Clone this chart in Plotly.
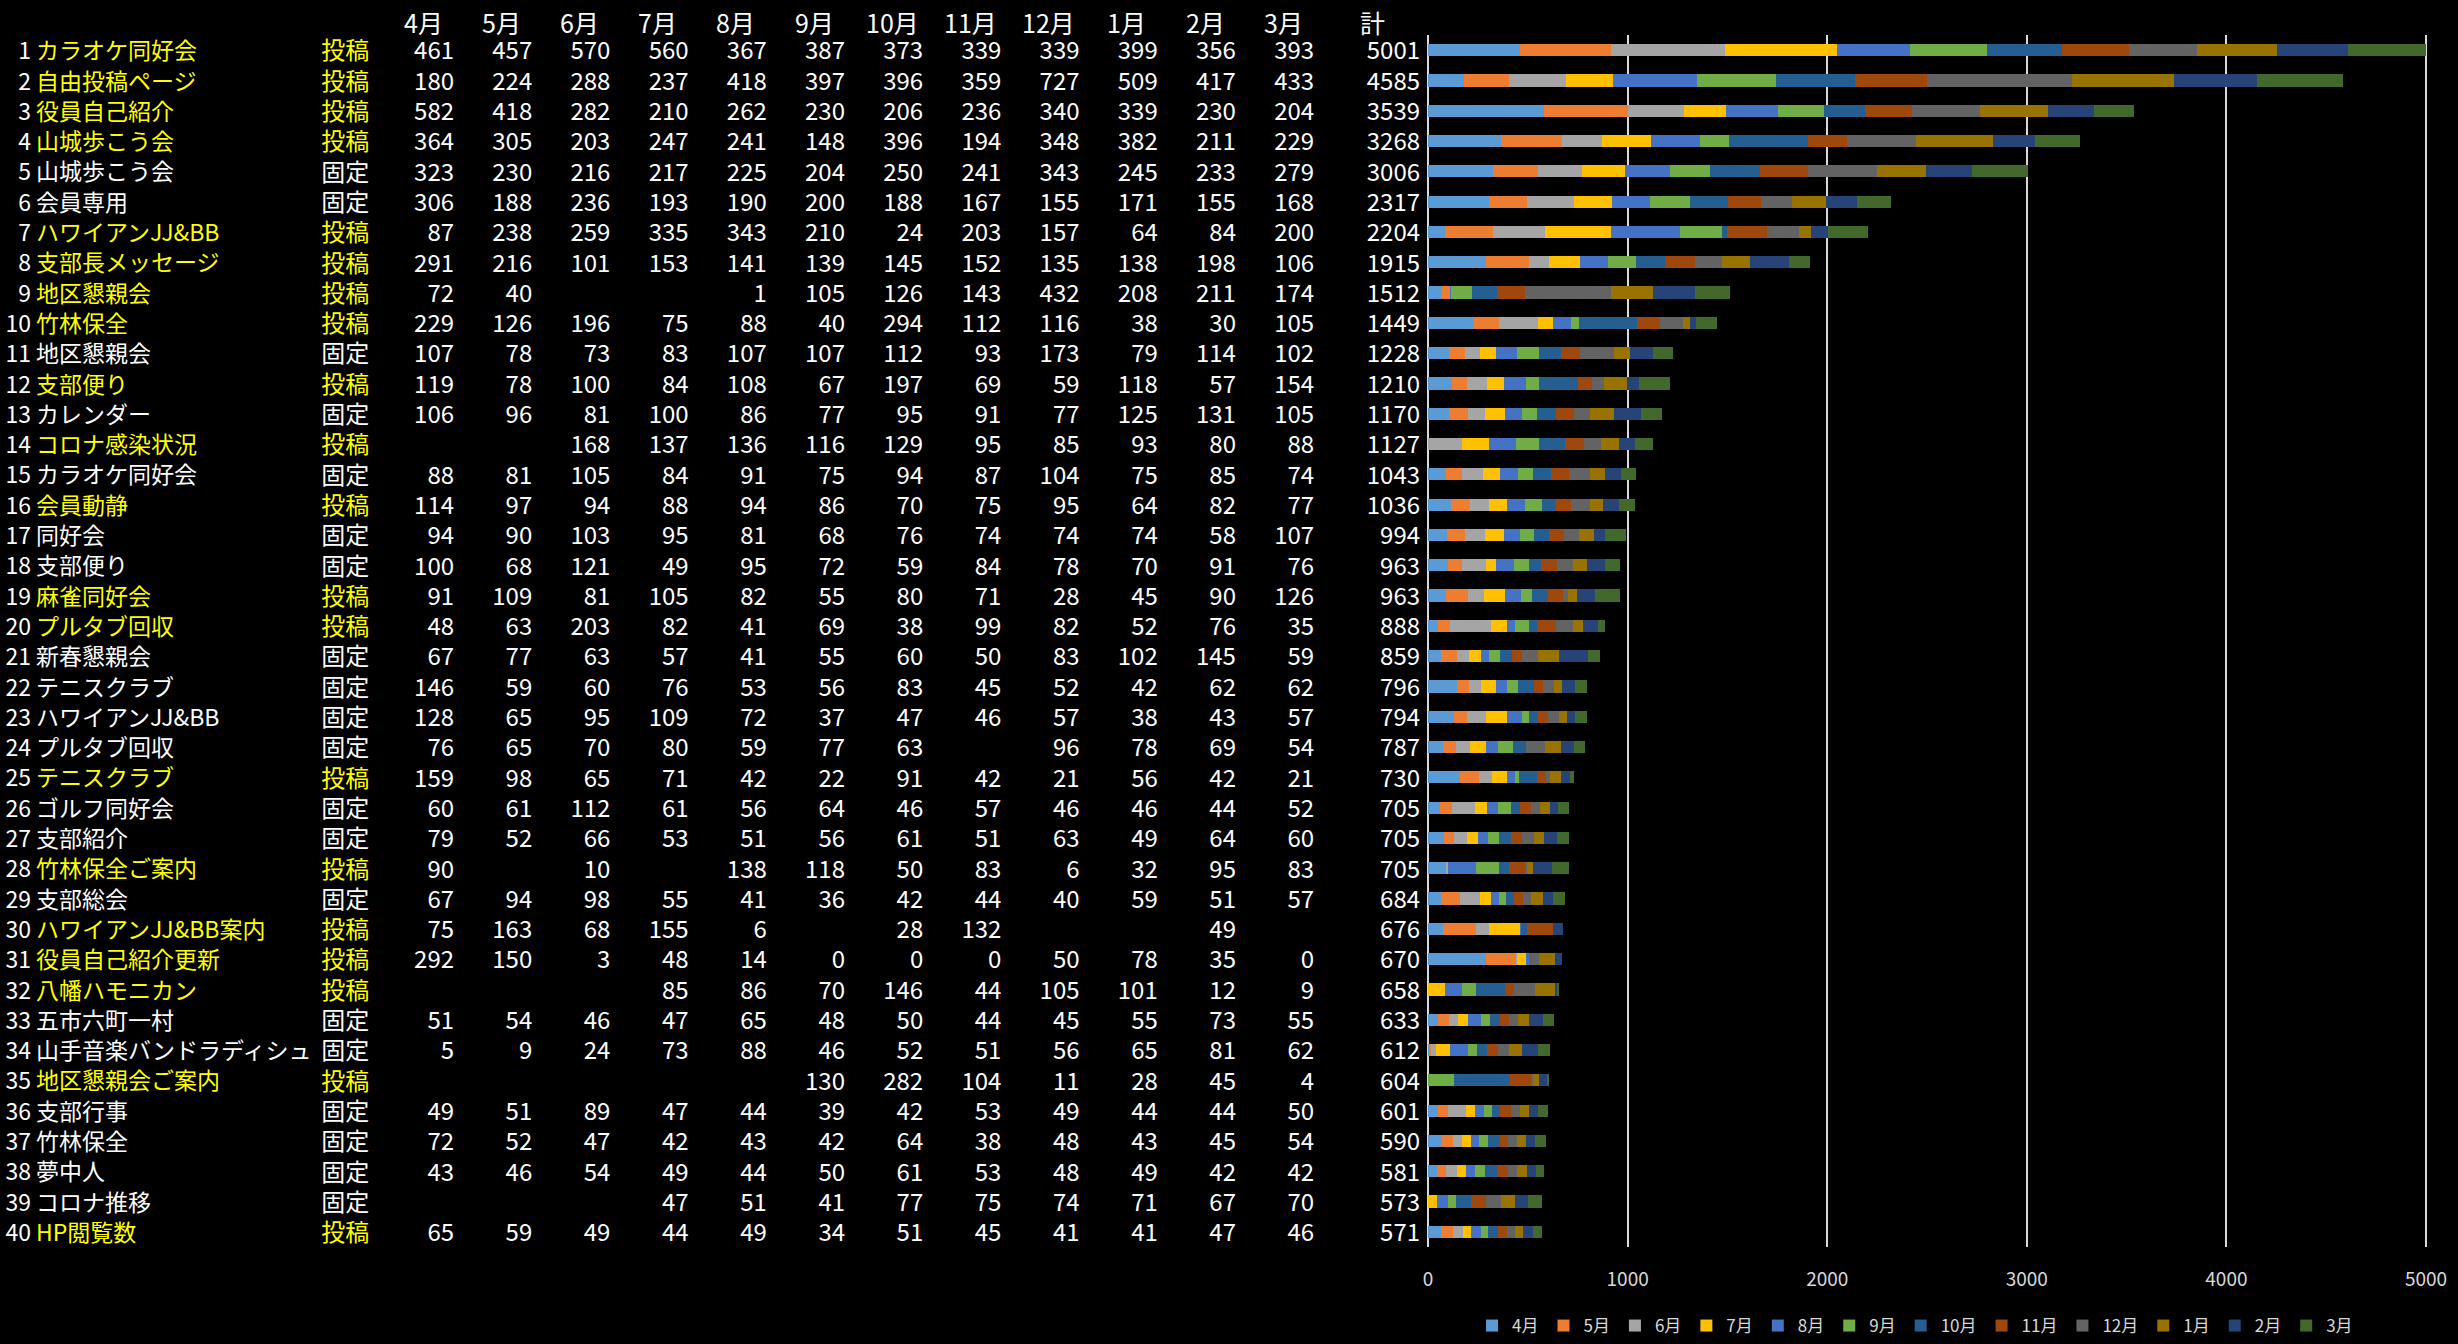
import plotly.graph_objects as go

months = ["4月", "5月", "6月", "7月", "8月", "9月", "10月", "11月", "12月", "1月", "2月", "3月"]
colors = ["#5B9BD5", "#ED7D31", "#A5A5A5", "#FFC000", "#4472C4", "#70AD47",
          "#255E91", "#9E480E", "#636363", "#997300", "#264478", "#43682B"]

names = ["カラオケ同好会", "自由投稿ページ", "役員自己紹介", "山城歩こう会", "山城歩こう会", "会員専用",
         "ハワイアンJJ&BB", "支部長メッセージ", "地区懇親会", "竹林保全", "地区懇親会", "支部便り",
         "カレンダー", "コロナ感染状況", "カラオケ同好会", "会員動静", "同好会", "支部便り",
         "麻雀同好会", "プルタブ回収", "新春懇親会", "テニスクラブ", "ハワイアンJJ&BB", "プルタブ回収",
         "テニスクラブ", "ゴルフ同好会", "支部紹介", "竹林保全ご案内", "支部総会", "ハワイアンJJ&BB案内",
         "役員自己紹介更新", "八幡ハモニカン", "五市六町一村", "山手音楽バンドラディシュ", "地区懇親会ご案内",
         "支部行事", "竹林保全", "夢中人", "コロナ推移", "HP閲覧数"]

kinds = ["投稿", "投稿", "投稿", "投稿", "固定", "固定", "投稿", "投稿", "投稿", "投稿",
         "固定", "投稿", "固定", "投稿", "固定", "投稿", "固定", "固定", "投稿", "投稿",
         "固定", "固定", "固定", "固定", "投稿", "固定", "固定", "投稿", "固定", "投稿",
         "投稿", "投稿", "固定", "固定", "投稿", "固定", "固定", "固定", "固定", "投稿"]

apr = [461, 180, 582, 364, 323, 306, 87, 291, 72, 229, 107, 119, 106, None, 88, 114, 94, 100, 91, 48,
       67, 146, 128, 76, 159, 60, 79, 90, 67, 75, 292, None, 51, 5, None, 49, 72, 43, None, 65]
may = [457, 224, 418, 305, 230, 188, 238, 216, 40, 126, 78, 78, 96, None, 81, 97, 90, 68, 109, 63,
       77, 59, 65, 65, 98, 61, 52, None, 94, 163, 150, None, 54, 9, None, 51, 52, 46, None, 59]
jun = [570, 288, 282, 203, 216, 236, 259, 101, None, 196, 73, 100, 81, 168, 105, 94, 103, 121, 81, 203,
       63, 60, 95, 70, 65, 112, 66, 10, 98, 68, 3, None, 46, 24, None, 89, 47, 54, None, 49]
jul = [560, 237, 210, 247, 217, 193, 335, 153, None, 75, 83, 84, 100, 137, 84, 88, 95, 49, 105, 82,
       57, 76, 109, 80, 71, 61, 53, None, 55, 155, 48, 85, 47, 73, None, 47, 42, 49, 47, 44]
aug = [367, 418, 262, 241, 225, 190, 343, 141, 1, 88, 107, 108, 86, 136, 91, 94, 81, 95, 82, 41,
       41, 53, 72, 59, 42, 56, 51, 138, 41, 6, 14, 86, 65, 88, None, 44, 43, 44, 51, 49]
sep = [387, 397, 230, 148, 204, 200, 210, 139, 105, 40, 107, 67, 77, 116, 75, 86, 68, 72, 55, 69,
       55, 56, 37, 77, 22, 64, 56, 118, 36, None, 0, 70, 48, 46, 130, 39, 42, 50, 41, 34]
oct_ = [373, 396, 206, 396, 250, 188, 24, 145, 126, 294, 112, 197, 95, 129, 94, 70, 76, 59, 80, 38,
        60, 83, 47, 63, 91, 46, 61, 50, 42, 28, 0, 146, 50, 52, 282, 42, 64, 61, 77, 51]
nov = [339, 359, 236, 194, 241, 167, 203, 152, 143, 112, 93, 69, 91, 95, 87, 75, 74, 84, 71, 99,
       50, 45, 46, None, 42, 57, 51, 83, 44, 132, 0, 44, 44, 51, 104, 53, 38, 53, 75, 45]
dec = [339, 727, 340, 348, 343, 155, 157, 135, 432, 116, 173, 59, 77, 85, 104, 95, 74, 78, 28, 82,
       83, 52, 57, 96, 21, 46, 63, 6, 40, None, 50, 105, 45, 56, 11, 49, 48, 48, 74, 41]
jan = [399, 509, 339, 382, 245, 171, 64, 138, 208, 38, 79, 118, 125, 93, 75, 64, 74, 70, 45, 52,
       102, 42, 38, 78, 56, 46, 49, 32, 59, None, 78, 101, 55, 65, 28, 44, 43, 49, 71, 41]
feb = [356, 417, 230, 211, 233, 155, 84, 198, 211, 30, 114, 57, 131, 80, 85, 82, 58, 91, 90, 76,
       145, 62, 43, 69, 42, 44, 64, 95, 51, 49, 35, 12, 73, 81, 45, 44, 45, 42, 67, 47]
mar = [393, 433, 204, 229, 279, 168, 200, 106, 174, 105, 102, 154, 105, 88, 74, 77, 107, 76, 126, 35,
       59, 62, 57, 54, 21, 52, 60, 83, 57, None, 0, 9, 55, 62, 4, 50, 54, 42, 70, 46]

totals = [5001, 4585, 3539, 3268, 3006, 2317, 2204, 1915, 1512, 1449, 1228, 1210, 1170, 1127, 1043,
          1036, 994, 963, 963, 888, 859, 796, 794, 787, 730, 705, 705, 705, 684, 676, 670, 658, 633,
          612, 604, 601, 590, 581, 573, 571]

axis_ticks = [0, 1000, 2000, 3000, 4000, 5000]

series = [apr, may, jun, jul, aug, sep, oct_, nov, dec, jan, feb, mar]

# ---- layout geometry (pixels) ----
W, H = 2458, 1344
ML, MR, MT, MB = 0, 30, 35, 88
plot_w = W - ML - MR
plot_h = H - MT - MB
x0_px = 1426          # pixel of value 0 on bar axis
px_per_unit = 0.2
bar_dom0 = x0_px / plot_w
bar_range_max = (plot_w - x0_px) / px_per_unit

FONT = "Noto Sans CJK JP"
YELLOW = "#FFFF00"
WHITE = "#FFFFFF"
GRID = "#d9d9d9"
NUM_FS = 24

n = len(names)
rows = list(range(n))
text_rows = [r + 0.11 for r in rows]   # small optical shift for text baseline
row_colors = [YELLOW if k == "投稿" else WHITE for k in kinds]

fig = go.Figure()

for m, vals, c in zip(months, series, colors):
    fig.add_trace(go.Bar(
        y=rows, x=[v if v is not None else 0 for v in vals], name=m, orientation="h",
        marker=dict(color=c, line=dict(width=0)), xaxis="x", yaxis="y",
        hoverinfo="skip"))

def text_col(xpx, texts, pos, cols, size):
    fig.add_trace(go.Scatter(
        x=[xpx] * len(texts), y=text_rows, text=texts, mode="text", textposition=pos,
        textfont=dict(family=FONT, size=size, color=cols), xaxis="x2", yaxis="y",
        showlegend=False, hoverinfo="skip", cliponaxis=False))

# row number
text_col(26, [str(i + 1) for i in rows], "middle left", WHITE, 23)
# names
text_col(31, names, "middle right", row_colors, 23)
# kind
text_col(341, kinds, "middle center", row_colors, 24)
# month values
col_right = [450 + 78.35 * i for i in range(12)]
for xr, vals in zip(col_right, series):
    text_col(xr, ["" if v is None else str(v) for v in vals], "middle left", WHITE, NUM_FS)
# totals
text_col(1418, [str(t) for t in totals], "middle left", WHITE, NUM_FS)

# headers (annotations, placed above the plotting area)
hdr_y = (H - MB - 22) / plot_h
annotations = []
for xc, lab in zip([xr - 31 for xr in col_right] + [1370], months + ["計"]):
    annotations.append(dict(
        x=xc, y=hdr_y, xref="x2", yref="paper", text=lab, showarrow=False,
        xanchor="center", yanchor="middle",
        font=dict(family=FONT, size=25, color=WHITE)))

fig.update_layout(
    width=W, height=H,
    margin=dict(l=ML, r=MR, t=MT, b=MB, pad=0),
    paper_bgcolor="#000000", plot_bgcolor="#000000",
    barmode="stack", bargap=0.595,
    font=dict(family=FONT, color=GRID),
    annotations=annotations,
    xaxis=dict(domain=[bar_dom0, 1], range=[0, bar_range_max], anchor="y",
               showgrid=True, gridcolor=GRID, gridwidth=1.5,
               zeroline=True, zerolinecolor=GRID, zerolinewidth=1.5,
               tickvals=axis_ticks, ticktext=[str(t) for t in axis_ticks],
               tickfont=dict(family=FONT, size=19, color=GRID),
               ticks="", ticklabelstandoff=19, showline=False, fixedrange=True),
    xaxis2=dict(domain=[0, bar_dom0], range=[0, x0_px], anchor="y", visible=False,
                showgrid=False, zeroline=False, fixedrange=True),
    yaxis=dict(range=[n - 0.5, -0.5], showticklabels=False, showgrid=False,
               zeroline=False, showline=False, ticks="", fixedrange=True),
    legend=dict(orientation="h", x=1914 / plot_w, xanchor="center",
                y=-(1336 - (H - MB)) / plot_h, yanchor="middle",
                font=dict(family=FONT, size=17, color=GRID),
                bgcolor="rgba(0,0,0,0)", itemwidth=30, traceorder="normal"),
    showlegend=True,
)

fig.write_html(
    "out.html",
    config={"displayModeBar": False},
    post_script="document.body.style.margin='0';document.body.style.background='#000';"
                "document.body.style.overflow='hidden';",
)
